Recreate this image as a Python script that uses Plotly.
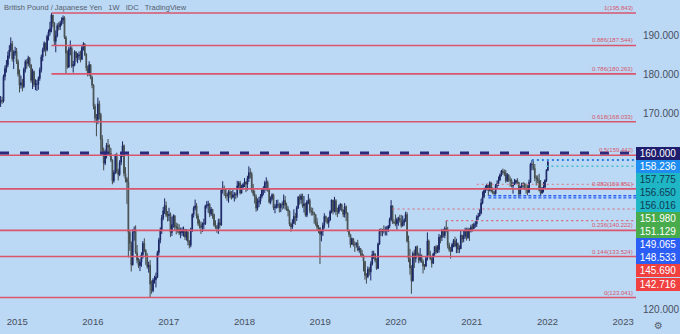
import pandas as pd
import plotly.graph_objects as go

# ---------------- data (weekly GBP/JPY) ----------------
first_open = 172.9
# each tuple: (close, high, low); open = previous close
w2014 = [(173.5,174.6,171.8),(173.3,174.4,172.6),(179.6,180.1,172.9),(181.6,182.4,178.6),
         (182.6,183.8,180.6),(184.9,186.0,182.0),(186.4,187.6,184.2),(188.0,189.6,185.9),
         (184.1,188.7,183.4),(185.6,186.3,181.5),(186.0,187.2,184.9),(183.4,186.9,182.8)]
w2015 = [(180.2,184.0,179.6),(177.4,181.4,175.5),(178.0,179.8,176.5),(177.0,179.0,175.8),
         (181.4,181.9,176.6),(183.4,183.9,180.6),(182.9,184.0,181.6),(184.3,184.9,182.2),
         (182.5,184.6,181.8),(178.6,182.8,178.0),(180.9,181.6,176.4),(177.5,181.1,176.9),
         (177.6,178.9,176.1),(177.6,178.7,175.9),(179.1,179.6,176.2),(181.3,181.9,178.5),
         (184.6,185.2,180.6),(186.4,187.0,183.5),(188.1,188.6,185.9),(186.4,188.3,184.8),
         (189.8,190.3,186.0),(191.0,191.6,188.8),(191.8,193.6,190.1),(195.3,195.84,190.9),
         (193.3,195.4,192.3),(188.6,193.5,187.4),(190.0,191.4,185.8),(192.6,193.2,189.6),
         (192.3,193.5,191.4),(193.2,193.8,191.5),(194.0,194.7,192.6),(194.6,195.2,193.0),
         (189.6,195.0,189.2),(185.6,190.0,180.4),(182.0,186.3,181.6),(186.6,187.2,181.8),
         (186.8,188.8,185.0),(182.3,187.3,181.8),(182.6,183.6,180.6),(185.9,186.3,182.2),
         (184.4,186.0,183.4),(184.9,185.6,183.0),(185.1,186.0,183.8),(184.0,186.2,183.2),
         (187.0,187.5,183.8),(187.9,188.4,186.2),(185.2,188.1,184.8),(181.8,185.6,181.0),
         (180.4,182.4,179.6),(182.6,183.5,179.8),(179.4,182.8,178.9),(177.4,179.8,176.6)]
w2016 = [(172.0,177.6,171.2),(169.0,172.6,167.8),(168.6,170.0,164.3),(172.6,174.2,167.4),
         (169.9,173.4,168.6),(163.5,170.3,160.2),(160.5,164.6,159.8),(157.4,161.4,155.6),
         (160.2,160.9,156.9),(162.0,162.6,158.6),(161.5,163.6,159.9),(159.9,162.2,159.2),
         (158.2,161.3,157.7),(152.9,158.4,152.0),(155.0,155.6,152.4),(159.2,159.8,154.6),
         (155.4,160.1,154.8),(154.5,156.0,153.0),(157.6,158.2,154.1),(159.3,160.0,156.9),
         (161.9,163.0,159.1),(154.8,162.2,154.0),(153.4,156.4,152.5),(152.6,153.9,147.0),
         (139.7,160.2,133.3),(136.9,140.4,135.0),(131.4,137.4,129.7),(139.7,140.5,131.2),
         (140.4,141.2,137.6),(134.6,141.5,134.2),(132.6,136.5,131.8),(131.2,133.2,130.6),
         (132.1,132.9,129.8),(134.0,134.6,130.9),(136.9,137.5,133.0),(135.1,138.2,134.6),
         (133.5,135.4,131.4),(130.9,134.4,130.4),(131.3,132.2,129.4),(126.5,132.6,123.041),
         (124.8,127.4,124.0),(127.5,128.0,124.4),(127.6,128.6,126.6),(128.2,129.4,125.6),
         (134.5,135.0,128.0),(137.7,138.3,133.8),(140.4,141.0,136.9),(143.4,144.2,139.3),
         (145.2,146.2,142.8),(146.6,148.4,144.4),(144.1,147.6,143.6),(144.0,145.2,142.5)]
w2017 = [(144.3,146.0,142.6),(139.7,144.8,138.5),(141.7,143.7,138.8),(143.9,144.3,140.9),
         (141.1,144.2,140.2),(141.0,142.2,139.2),(140.4,142.0,139.6),(139.5,141.8,139.0),
         (139.6,140.9,138.2),(140.3,141.0,138.8),(140.4,141.2,138.6),(138.5,140.6,137.8),
         (139.8,140.5,137.6),(137.4,140.5,136.4),(136.4,137.7,135.6),(140.5,140.9,135.9),
         (144.3,144.6,139.8),(145.9,146.4,143.5),(146.5,148.1,145.3),(143.9,147.2,143.2),
         (142.0,144.5,141.4),(141.3,143.0,140.7),(141.0,142.5,139.3),(141.9,142.3,139.8),
         (141.9,143.2,140.5),(146.4,146.8,141.6),(146.6,147.7,145.8),(146.9,147.8,144.7),
         (144.4,147.2,143.6),(145.6,146.2,143.9),(144.3,145.7,143.2),(141.6,144.5,141.2),
         (141.0,142.8,140.6),(140.8,141.6,139.6),(142.2,143.2,139.3),(141.6,143.2,140.7),
         (150.5,150.7,141.4),(151.0,152.8,149.6),(150.7,151.7,149.0),(149.3,150.9,148.4),
         (149.0,149.8,147.8),(150.1,150.5,147.3),(149.4,151.0,148.4),(148.7,150.3,148.1),
         (149.3,150.6,148.4),(149.4,150.0,147.6),(149.3,149.9,148.2),(151.6,152.9,148.6),
         (152.4,152.8,150.8),(149.8,152.9,149.4),(151.3,151.9,149.6),(152.0,152.3,150.9)]
w2018 = [(152.6,153.6,151.3),(152.0,152.8,150.0),(153.5,154.2,150.4),(155.0,156.6,152.6),
         (154.6,156.1,153.5),(150.6,155.2,149.9),(149.6,152.1,149.0),(148.8,150.4,147.1),
         (145.9,149.4,145.0),(147.5,148.4,145.3),(147.7,148.8,146.2),(148.9,149.5,146.9),
         (150.6,150.9,148.4),(151.0,151.5,149.2),(152.4,152.9,149.8),(152.5,153.8,150.4),
         (150.7,153.0,150.1),(147.4,150.9,147.1),(148.3,148.9,146.9),(149.3,149.7,147.9),
         (146.0,149.6,145.4),(146.2,147.0,144.6),(146.8,148.0,145.8),(146.8,148.1,145.9),
         (146.0,147.3,144.8),(146.9,147.2,144.9),(146.8,147.6,145.5),(147.9,149.4,145.8),
         (146.6,149.0,145.5),(145.7,147.3,145.2),(145.2,146.4,143.8),(141.8,145.3,141.3),
         (141.1,142.3,139.9),(142.0,143.1,140.6),(143.8,145.6,141.9),(143.5,144.7,141.6),
         (146.0,146.5,142.6),(148.7,149.0,145.7),(148.1,149.4,146.8),(149.0,149.6,147.1),
         (146.5,149.6,146.0),(147.0,149.0,144.8),(144.1,147.3,143.7),(147.5,148.0,143.6),
         (147.9,149.5,146.9),(145.3,148.4,144.6),(145.0,146.1,144.0),(144.6,146.0,144.0),
         (144.3,145.0,141.9),(142.3,144.1,141.4),(141.0,143.4,140.2),(140.9,141.6,139.5),
         (139.2,141.0,131.6)]
w2019 = [(140.0,140.4,137.4),(141.5,142.2,138.8),(143.8,144.6,140.7),(143.3,144.0,142.3),
         (142.2,143.5,141.8),(142.9,143.7,140.9),(145.0,145.4,142.6),(148.0,148.1,144.6),
         (145.1,148.0,144.3),(147.8,148.8,144.8),(145.0,148.2,144.1),(144.9,146.0,143.6),
         (146.3,146.8,144.4),(146.9,147.2,145.3),(145.4,147.0,145.0),(144.3,145.6,143.6),
         (146.3,147.2,143.5),(144.7,146.6,142.6),(140.1,144.8,139.9),(139.2,140.5,138.5),
         (136.6,139.3,135.8),(138.1,138.4,136.6),(136.6,138.2,136.1),(136.6,137.4,134.7),
         (136.9,137.2,135.8),(135.2,137.8,134.9),(135.6,136.2,134.5),(134.3,135.4,133.6),
         (133.8,135.2,133.3),(132.3,134.1,129.7),(128.7,129.8,127.6),(128.4,129.3,126.6),
         (130.3,131.0,128.0),(129.6,130.8,128.7),(131.6,132.3,127.4),(134.0,135.0,131.2),
         (134.2,135.0,132.9),(132.5,134.4,132.0),(130.5,133.1,130.1),(136.7,137.1,130.3),
         (140.0,140.6,136.5),(139.9,140.8,138.8),(140.3,140.6,138.7),(140.0,141.5,139.4),
         (140.4,141.2,138.9),(140.4,141.3,138.9),(141.3,141.6,139.8),(143.0,143.5,140.8),
         (146.5,147.96,142.6),(142.3,146.6,141.9),(142.2,143.0,141.8),(141.9,144.3,141.3)]
w2020 = [(143.0,143.5,140.4),(143.3,143.7,141.4),(142.8,144.2,142.2),(141.4,144.2,140.9),
         (142.2,144.0,141.2),(142.8,143.3,141.4),(144.3,145.0,142.4),(137.5,144.9,137.1),
         (133.0,138.9,132.1),(130.6,135.5,128.9),(127.3,131.3,124.0),(134.3,134.8,127.1),
         (133.0,135.3,130.6),(136.0,136.2,132.0),(134.1,136.4,133.6),(132.6,134.5,131.8),
         (133.8,135.7,132.0),(132.3,134.1,131.9),(131.1,132.8,129.2),(131.1,131.6,130.1),
         (133.1,133.4,130.8),(137.5,139.7,132.5),(134.0,137.9,133.8),(132.9,135.0,132.6),
         (131.8,133.6,130.7),(134.2,134.5,131.6),(136.0,136.2,133.7),(134.7,136.5,134.2),
         (135.3,136.4,134.4),(138.5,139.3,134.5),(138.4,139.0,136.9),(140.2,140.6,137.5),
         (138.9,140.6,138.4),(140.7,141.2,138.2),(140.4,142.716,139.7),(136.4,141.1,135.6),
         (135.3,137.1,134.7),(134.9,136.0,133.0),(136.6,137.0,134.7),(137.6,138.0,135.9),
         (136.2,138.6,135.9),(136.9,138.1,134.4),(135.4,137.1,134.4),(135.5,136.4,134.4),
         (139.0,140.3,135.7),(138.0,139.0,137.0),(138.8,140.3,137.2),(140.0,140.9,138.1),
         (138.4,140.9,137.6),(140.4,140.9,138.0),(140.1,140.8,137.5),(141.1,141.7,139.7)]
w2021 = [(140.7,141.9,139.9),(141.7,142.2,140.5),(141.9,142.6,140.9),(143.6,144.1,141.1),
         (143.9,144.7,142.9),(144.6,145.6,143.8),(147.2,148.3,144.3),(148.8,150.2,146.9),
         (150.4,151.1,148.4),(151.1,151.7,149.8),(151.9,152.2,150.4),(150.4,151.7,149.065),
         (152.4,152.8,150.2),(150.3,152.5,149.9),(149.9,151.2,149.5),(149.6,150.3,149.3),
         (151.7,152.1,149.4),(152.2,153.0,151.0),(153.1,154.0,151.6),(154.4,154.8,152.9),
         (155.4,155.7,154.0),(155.0,156.016,154.5),(154.9,155.8,154.1),(152.9,155.7,152.4),
         (154.4,154.9,152.6),(153.2,154.6,152.6),(153.0,154.0,151.4),(151.6,153.5,151.2),
         (152.1,152.6,149.6),(152.4,153.4,151.8),(153.0,153.2,152.0),(152.5,153.6,151.8),
         (149.5,152.6,148.533),(151.3,151.6,149.6),(152.2,152.4,151.0),(152.1,152.6,151.1),
         (151.0,152.4,150.6),(150.7,152.2,149.6),(149.9,151.8,149.2),(152.5,153.2,150.4),
         (157.1,157.5,152.4),(157.1,158.236,155.6),(156.1,158.0,155.6),(153.6,157.2,152.8),
         (153.6,154.3,151.7),(153.0,154.3,152.3),(150.4,154.7,150.2),(149.7,153.1,148.96),
         (151.1,151.3,149.7),(151.3,152.6,149.9),(153.0,153.3,150.9),(155.6,155.9,152.6)]
w2022 = [(157.775,157.9,155.4)]

year_weeks = [("2014-10-13", w2014), ("2015-01-05", w2015), ("2016-01-04", w2016),
              ("2017-01-02", w2017), ("2018-01-01", w2018), ("2019-01-07", w2019),
              ("2020-01-06", w2020), ("2021-01-04", w2021), ("2022-01-03", w2022)]

# Fibonacci retracement (drawn from the 2015 high to the 2016 low)
fib_ratios = ["1", "0.886", "0.786", "0.618", "0.5", "0.382", "0.236", "0.144", "0"]
fib_prices = [195.843, 187.544, 180.263, 168.033, 159.442, 150.851, 140.222, 133.524, 123.041]
fib_anchor = "2015-06-15"

# price tags on the right scale
tag_values = [160.000, 158.236, 157.775, 156.650, 156.016, 151.980, 151.129,
              149.065, 148.533, 145.690, 142.716]
tag_colors = ["#1f1d6e", "#1f8ef0", "#1fb6c6", "#1fb6c6", "#1fb6c6", "#48ab4c", "#48ab4c",
              "#2a5ef5", "#2a5ef5", "#f0403f", "#f0403f"]
tag_text_colors = ["#ffffff", "#ffffff", "#123a52", "#123a52", "#123a52", "#ffffff", "#ffffff",
                   "#ffffff", "#ffffff", "#ffffff", "#ffffff"]

# horizontal rays (level, start date, colour, dash, width)
rays = [(158.236, "2021-10-18", "#2f7fe6", "2px,3px", 2),
        (156.650, "2021-12-27", "#45bfcc", "2px,3px", 1.5),
        (151.980, "2021-01-25", "#d98a98", "2px,3px", 1.2),
        (149.065, "2021-03-22", "#2a5ef5", "3px,2px", 1.4),
        (148.533, "2021-03-22", "#2a5ef5", "3px,2px", 1.4),
        (145.690, "2019-12-16", "#d9677a", "2px,3px", 1.2),
        (142.716, "2020-08-31", "#d9677a", "2px,3px", 1.2)]

key_level = 160.0
x_range = ["2014-10-10", "2023-03-04"]
y_range = [118.82, 199.17]
y_ticks = [120, 170, 180, 190]

# ---------------- build OHLC ----------------
dates, opens, highs, lows, closes = [], [], [], [], []
prev = first_open
for start, rows in year_weeks:
    ds = pd.date_range(start, periods=len(rows), freq="7D")
    for d, (c, h, l) in zip(ds, rows):
        dates.append(d)
        opens.append(prev)
        highs.append(max(h, prev, c))
        lows.append(min(l, prev, c))
        closes.append(c)
        prev = c

BG = "#bbd8f5"
TXT = "#46505e"
FIB = "#d9566c"

fig = go.Figure()
fig.add_trace(go.Candlestick(
    x=dates, open=opens, high=highs, low=lows, close=closes,
    increasing=dict(line=dict(color="#1b2663", width=1), fillcolor="#243585"),
    decreasing=dict(line=dict(color="#434b4c", width=1), fillcolor="#86948c"),
    whiskerwidth=0, showlegend=False, hoverinfo="skip"))

shapes = []
for i, p in enumerate(fib_prices):
    if i < 3:
        shapes.append(dict(type="line", xref="x", yref="y", x0=fib_anchor, x1=x_range[1],
                           y0=p, y1=p, line=dict(color=FIB, width=1.6), layer="above"))
    else:
        shapes.append(dict(type="line", xref="paper", yref="y", x0=0, x1=1,
                           y0=p, y1=p, line=dict(color=FIB, width=1.6), layer="above"))
shapes.append(dict(type="line", xref="paper", yref="y", x0=0, x1=1, y0=key_level, y1=key_level,
                   line=dict(color="#2b2a7c", width=3, dash="9px,11px"), layer="above"))
for lvl, start, col, dash, w in rays:
    shapes.append(dict(type="line", xref="x", yref="y", x0=start, x1=x_range[1], y0=lvl, y1=lvl,
                       line=dict(color=col, width=w, dash=dash), layer="above"))

annotations = []
for r, p in zip(fib_ratios, fib_prices):
    annotations.append(dict(xref="paper", yref="y", x=0.998, y=p, xanchor="right", yanchor="bottom",
                            text=f"{r}({p:.3f})", showarrow=False,
                            font=dict(size=6, color=FIB, family="Liberation Sans")))

PLOT_H = 314
for i, (v, bg, fg) in enumerate(zip(tag_values, tag_colors, tag_text_colors)):
    ypix = 153 + 13.1 * i
    annotations.append(dict(xref="paper", yref="paper", x=1, y=1 - ypix / PLOT_H,
                            xanchor="left", yanchor="middle", text=f"{v:.3f}", showarrow=False,
                            bgcolor=bg, width=44, height=13, borderpad=0, borderwidth=0,
                            align="center", font=dict(size=10, color=fg, family="Liberation Sans")))

annotations.append(dict(xref="paper", yref="paper", x=0, y=1, xanchor="left", yanchor="top",
                        xshift=2, yshift=-1,
                        text="British Pound / Japanese Yen\u00a0\u00a0 1W\u00a0\u00a0 IDC\u00a0\u00a0 TradingView",
                        showarrow=False, font=dict(size=7.5, color="#56606e", family="Liberation Sans")))
annotations.append(dict(xref="paper", yref="paper", x=1, y=0, xanchor="left", yanchor="top",
                        xshift=16, yshift=-4, text="\u2699", showarrow=False,
                        font=dict(size=10, color="#56606e", family="DejaVu Sans")))

fig.update_layout(
    width=680, height=334,
    margin=dict(l=0, r=44, t=0, b=20, pad=0),
    paper_bgcolor=BG, plot_bgcolor=BG,
    shapes=shapes, annotations=annotations,
    showlegend=False,
    font=dict(family="Liberation Sans", color=TXT),
    xaxis=dict(type="date", range=x_range, rangeslider=dict(visible=False),
               showgrid=False, zeroline=False, showline=False, ticks="",
               tickformat="%Y", dtick="M12", tick0="2015-01-01",
               tickfont=dict(size=9.5, color=TXT)),
    yaxis=dict(side="right", range=y_range, tickvals=y_ticks,
               ticktext=[f"{t:.3f}" for t in y_ticks],
               showgrid=False, zeroline=False, showline=False, ticks="",
               ticklabelstandoff=6, tickfont=dict(size=10, color=TXT)),
)

fig.write_html("out.html")
